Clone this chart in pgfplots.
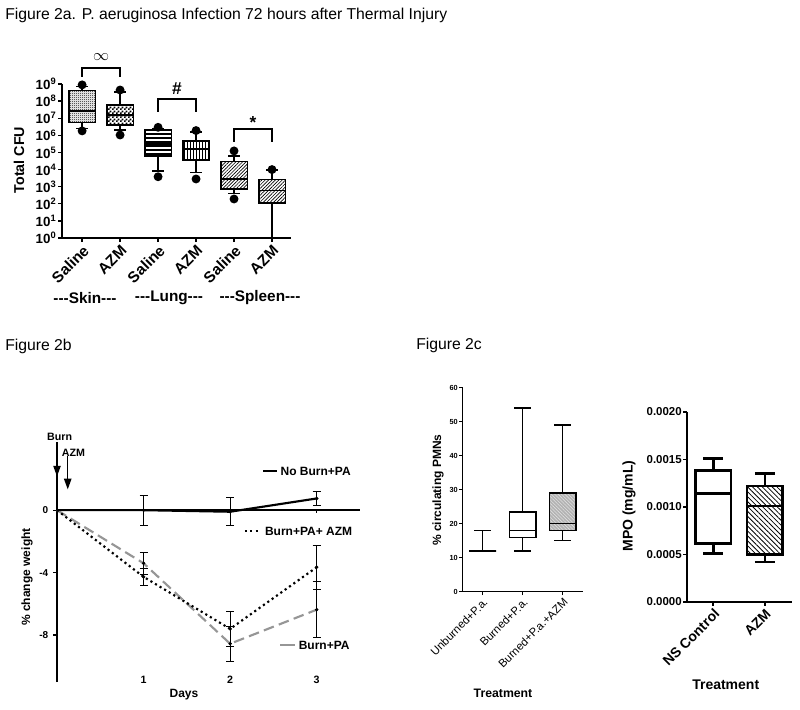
\documentclass[border=0pt]{standalone}
\usepackage{pgfplots}
\pgfplotsset{compat=1.18}
\usepgfplotslibrary{statistics}
\usetikzlibrary{patterns,patterns.meta,arrows.meta}
\usepackage{fontspec}
\setmainfont{Liberation Sans}
\newcommand\fs[1]{\fontsize{#1}{#1}\selectfont}
\definecolor{dgray}{RGB}{150,150,150}
\pgfdeclarepatternformonly{checkA}{\pgfpointorigin}{\pgfpoint{1.5pt}{1.5pt}}{\pgfpoint{1.5pt}{1.5pt}}{%
  \pgfpathrectangle{\pgfpointorigin}{\pgfpoint{0.75pt}{0.75pt}}%
  \pgfpathrectangle{\pgfpoint{0.75pt}{0.75pt}}{\pgfpoint{0.75pt}{0.75pt}}%
  \pgfusepath{fill}}
\pgfdeclarepatternformonly{checkB}{\pgfpointorigin}{\pgfpoint{3pt}{3pt}}{\pgfpoint{3pt}{3pt}}{%
  \pgfpathrectangle{\pgfpointorigin}{\pgfpoint{1.5pt}{1.5pt}}%
  \pgfpathrectangle{\pgfpoint{1.5pt}{1.5pt}}{\pgfpoint{1.5pt}{1.5pt}}%
  \pgfusepath{fill}}
\pgfplotsset{
  cfubox/.style={black, line width=1.2pt, solid, mark=*, mark size=2.7pt, mark options={fill=black, solid}},
  ebar/.style={only marks, mark=*, mark size=1.1pt, black,
    error bars/.cd, y dir=both, y explicit,
    error bar style={line width=0.8pt,solid},
    error mark options={rotate=90,mark size=3pt,line width=0.8pt,solid}},
}
\begin{document}
\begin{tikzpicture}
\path (0pt,0pt) rectangle (600pt,-532.5pt);
\node[anchor=base west,inner sep=0pt,font=\fs{11.8}] at (3.75pt,-15pt) {Figure 2a. P. aeruginosa Infection 72 hours after Thermal Injury};
\node[anchor=base west,inner sep=0pt,font=\fs{11.8}] at (3.75pt,-262.5pt) {Figure 2b};
\node[anchor=base west,inner sep=0pt,font=\fs{11.8}] at (312pt,-262pt) {Figure 2c};

% ---------------- Figure 2a ----------------
\begin{axis}[
  at={(46.5pt,-178.5pt)}, anchor=south west,
  scale only axis, width=171.75pt, height=115.5pt,
  xmin=-0.53, xmax=5.5, ymin=0, ymax=9,
  axis lines=left, axis line style={line width=1.3pt,-},
  xtick={0,1,2,3,4,5},
  xticklabels={Saline,AZM,Saline,AZM,Saline,AZM},
  xticklabel style={rotate=45,anchor=north east,font=\bfseries\fs{11.5},inner sep=1pt},
  ytick={0,1,2,3,4,5,6,7,8,9},
  yticklabels={10\textsuperscript{0},10\textsuperscript{1},10\textsuperscript{2},10\textsuperscript{3},10\textsuperscript{4},10\textsuperscript{5},10\textsuperscript{6},10\textsuperscript{7},10\textsuperscript{8},10\textsuperscript{9}},
  yticklabel style={font=\bfseries\fs{10},inner sep=1pt},
  tick align=outside, major tick length=3pt,
  tick style={line width=1pt,black},
  clip=false,
  boxplot/draw direction=y,
  boxplot/box extend=0.7,
  boxplot/whisker extend=0.3,
]
\addplot[cfubox, boxplot prepared={draw position=0, lower whisker=6.41, lower quartile=6.74, median=7.43, upper quartile=8.61, upper whisker=8.85},
  boxplot/every box/.append style={pattern=checkA}]
  table[row sep=\\,y index=0]{v\\ 8.95\\ 6.26\\};
\addplot[cfubox, boxplot prepared={draw position=1, lower whisker=6.3, lower quartile=6.61, median=7.19, upper quartile=7.78, upper whisker=8.55},
  boxplot/every box/.append style={pattern=checkB}]
  table[row sep=\\,y index=0]{v\\ 8.65\\ 6.02\\};
\addplot[cfubox, boxplot prepared={draw position=2, lower whisker=3.92, lower quartile=4.81, median=5.5, upper quartile=6.32, upper whisker=6.4},
  boxplot/every box/.append style={pattern={Lines[angle=0,distance=3pt,line width=0.9pt]}}]
  table[row sep=\\,y index=0]{v\\ 6.47\\ 3.58\\};
\addplot[cfubox, boxplot prepared={draw position=3, lower whisker=3.82, lower quartile=4.56, median=5.2, upper quartile=5.67, upper whisker=6.2},
  boxplot/every box/.append style={pattern={Lines[angle=90,distance=2.2pt,line width=0.7pt]}}]
  table[row sep=\\,y index=0]{v\\ 6.28\\ 3.45\\};
\addplot[cfubox, boxplot prepared={draw position=4, lower whisker=2.61, lower quartile=2.87, median=3.45, upper quartile=4.46, upper whisker=4.8},
  boxplot/every box/.append style={pattern={Lines[angle=45,distance=1.8pt,line width=0.5pt]}}]
  table[row sep=\\,y index=0]{v\\ 5.09\\ 2.28\\};
\addplot[cfubox, boxplot prepared={draw position=5, lower whisker=0, lower quartile=2.03, median=2.77, upper quartile=3.43, upper whisker=3.98},
  boxplot/every box/.append style={pattern={Lines[angle=45,distance=1.8pt,line width=0.5pt]}}]
  table[row sep=\\,y index=0]{v\\ 4.0\\};
% significance brackets
\draw[line width=1.2pt] (axis cs:0,9.42) -- (axis cs:0,9.94) -- (axis cs:1,9.94) -- (axis cs:1,9.42);
\node[font=\fs{13}] at (axis cs:0.5,10.57) {$\infty$};
\draw[line width=1.2pt] (axis cs:2,7.39) -- (axis cs:2,8.11) -- (axis cs:3,8.11) -- (axis cs:3,7.39);
\node[font=\bfseries\fs{13}] at (axis cs:2.5,8.72) {\#};
\draw[line width=1.2pt] (axis cs:4,5.63) -- (axis cs:4,6.36) -- (axis cs:5,6.36) -- (axis cs:5,5.63);
\node[font=\bfseries\fs{13}] at (axis cs:4.5,6.75) {*};
\end{axis}
\node[rotate=90,font=\bfseries\fs{10.7}] at (14.25pt,-120pt) {Total CFU};
\node[font=\bfseries\fs{11.5}] at (63.75pt,-223.5pt) {-{}-{}-Skin-{}-{}-};
\node[font=\bfseries\fs{11.5}] at (126.75pt,-223.5pt) {-{}-{}-Lung-{}-{}-};
\node[font=\bfseries\fs{11.5}] at (195pt,-223.5pt) {-{}-{}-Spleen-{}-{}-};

% ---------------- Figure 2b ----------------
\begin{axis}[
  at={(42.75pt,-511.5pt)}, anchor=south west,
  scale only axis, width=227.25pt, height=179.25pt,
  xmin=0, xmax=3.5, ymin=-11, ymax=4.3,
  axis x line=bottom, axis y line=left,
  x axis line style={draw=none},
  y axis line style={line width=1.3pt,-},
  xtick={1,2,3}, xticklabels={1,2,3},
  xticklabel style={font=\bfseries\fs{8}, yshift=11pt},
  x tick style={draw=none},
  ytick={-8,-4,0}, yticklabels={-8,-4,0},
  yticklabel style={font=\bfseries\fs{7.5}},
  y tick style={line width=1pt,black},
  tick align=outside, major tick length=3pt,
  clip=false,
]
\addplot[dgray, line width=1.6pt, dash pattern=on 8pt off 4pt] coordinates {(0,0) (1,-3.4) (2,-8.55) (3,-6.37)};
\addplot[black, line width=1.6pt, dash pattern=on 1.6pt off 2.4pt] coordinates {(0,0) (1,-4.27) (2,-7.6) (3,-3.65)};
\addplot[black, line width=1.6pt] coordinates {(0,0) (1,0) (2,-0.1) (3,0.75)};
\draw[line width=1.3pt] (axis cs:0,0) -- (axis cs:3.5,0);
\draw[line width=1pt] (axis cs:1,0) -- (axis cs:1,-0.2);
\draw[line width=1pt] (axis cs:2,0) -- (axis cs:2,-0.2);
\draw[line width=1pt] (axis cs:3,0) -- (axis cs:3,-0.2);
\addplot[ebar] coordinates {(1,-3.4) +- (0,0.7) (2,-8.55) +- (0,1.13) (3,-6.37) +- (0,1.8)};
\addplot[ebar] coordinates {(1,-4.27) +- (0,0.55) (2,-7.6) +- (0,1.1) (3,-3.65) +- (0,1.4)};
\addplot[ebar] coordinates {(1,0) +- (0,0.96) (2,-0.1) +- (0,0.9) (3,0.75) +- (0,0.46)};
% labels
\draw[black,line width=1.5pt] (axis cs:2.38,2.48) -- (axis cs:2.54,2.48);
\node[anchor=west,font=\bfseries\fs{9},inner sep=0pt] at (axis cs:2.58,2.48) {No Burn+PA};
\draw[black,line width=1.6pt,dash pattern=on 1.6pt off 2.4pt] (axis cs:2.17,-1.35) -- (axis cs:2.35,-1.35);
\node[anchor=west,font=\bfseries\fs{9},inner sep=0pt] at (axis cs:2.40,-1.35) {Burn+PA+ AZM};
\draw[dgray,line width=1.6pt] (axis cs:2.58,-8.65) -- (axis cs:2.75,-8.65);
\node[anchor=west,font=\bfseries\fs{9},inner sep=0pt] at (axis cs:2.79,-8.65) {Burn+PA};
\draw[line width=1pt,-{Triangle[length=8pt,width=5.5pt]}] (axis cs:0,4.34) -- (axis cs:0,2.16);
\node[font=\bfseries\fs{8},inner sep=0pt] at (axis cs:0.03,4.66) {Burn};
\draw[line width=1pt,-{Triangle[length=8pt,width=5.5pt]}] (axis cs:0.124,3.46) -- (axis cs:0.124,1.33);
\node[font=\bfseries\fs{8},inner sep=0pt] at (axis cs:0.19,3.7) {AZM};
\end{axis}
\node[rotate=90,font=\bfseries\fs{9}] at (20.25pt,-432.75pt) {\% change weight};
\node[font=\bfseries\fs{9}] at (138pt,-521.25pt) {Days};

% ---------------- Figure 2c left ----------------
\begin{axis}[
  at={(347pt,-443.8pt)}, anchor=south west,
  scale only axis, width=90pt, height=153pt,
  xmin=-0.5, xmax=2.5, ymin=0, ymax=60,
  axis lines=left, axis line style={line width=1.1pt,-},
  xtick={0,1,2},
  xticklabels={Unburned+P.a.,Burned+P.a.,Burned+P.a.+AZM},
  xticklabel style={rotate=45,anchor=north east,font=\fs{8.5},inner sep=1pt},
  ytick={0,10,20,30,40,50,60}, yticklabels={0,10,20,30,40,50,60},
  yticklabel style={font=\bfseries\fs{5.5},inner sep=1pt},
  tick align=outside, major tick length=2.5pt, tick style={line width=0.8pt,black},
  boxplot/draw direction=y, boxplot/box extend=0.67, boxplot/whisker extend=0.42,
  clip=false,
]
\addplot[black,line width=1.1pt,boxplot prepared={draw position=0,lower whisker=12,lower quartile=12,median=12,upper quartile=12,upper whisker=18}] coordinates {};
\addplot[black,line width=1.1pt,boxplot prepared={draw position=1,lower whisker=12,lower quartile=16,median=18,upper quartile=23.5,upper whisker=54}] coordinates {};
\addplot[black,line width=1.1pt,boxplot prepared={draw position=2,lower whisker=15,lower quartile=18,median=20,upper quartile=29,upper whisker=49},
  boxplot/every box/.append style={fill=gray!60, postaction={pattern={Lines[angle=-45,distance=1.8pt,line width=0.45pt]}, pattern color=gray!25}}] coordinates {};
\end{axis}
\node[rotate=90,font=\bfseries\fs{9}] at (328.5pt,-367.5pt) {\% circulating PMNs};
\node[font=\bfseries\fs{9.2}] at (377.25pt,-519.75pt) {Treatment};

% ---------------- Figure 2c right ----------------
\begin{axis}[
  at={(515.5pt,-451.3pt)}, anchor=south west,
  scale only axis, width=78.3pt, height=142.3pt,
  xmin=-0.5, xmax=1.52, ymin=0, ymax=0.002,
  axis lines=left, axis line style={line width=1.6pt,-},
  xtick={0,1}, xticklabels={NS Control,AZM},
  xticklabel style={rotate=45,anchor=north east,font=\bfseries\fs{10.5},inner sep=1pt},
  ytick={0,0.0005,0.001,0.0015,0.002},
  yticklabels={0.0000,0.0005,0.0010,0.0015,0.0020},
  scaled y ticks=false,
  yticklabel style={font=\bfseries\fs{8.6},inner sep=1pt},
  tick align=outside, major tick length=3pt, tick style={line width=1.2pt,black},
  boxplot/draw direction=y, boxplot/box extend=0.69, boxplot/whisker extend=0.39,
  clip=false,
]
\addplot[black,line width=2pt,boxplot prepared={draw position=0,lower whisker=0.000506,lower quartile=0.000612,median=0.001143,upper quartile=0.001382,upper whisker=0.001513}] coordinates {};
\addplot[black,line width=2pt,boxplot prepared={draw position=1,lower whisker=0.00042,lower quartile=0.0005,median=0.00101,upper quartile=0.00122,upper whisker=0.00135},
  boxplot/every box/.append style={pattern={Lines[angle=-45,distance=2.6pt,line width=0.6pt]}}] coordinates {};
\end{axis}
\node[rotate=90,font=\bfseries\fs{10.5}] at (471.75pt,-379.5pt) {MPO (mg/mL)};
\node[font=\bfseries\fs{10.5}] at (544.3pt,-513.75pt) {Treatment};
\end{tikzpicture}
\end{document}
